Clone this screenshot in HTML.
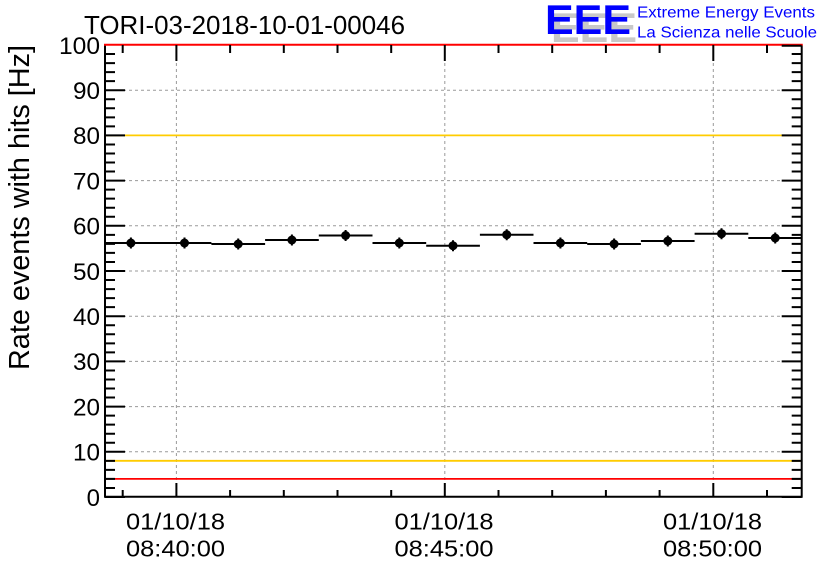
<!DOCTYPE html>
<html><head><meta charset="utf-8"><style>
html,body{margin:0;padding:0;background:#fff;}
svg{display:block;font-family:"Liberation Sans",Arial,sans-serif;}
</style></head><body>
<svg width="836" height="572" viewBox="0 0 836 572" xmlns="http://www.w3.org/2000/svg">
<rect width="836" height="572" fill="#fff"/>
<!-- grid -->
<g stroke="#9a9a9a" stroke-width="1" stroke-dasharray="3,3" fill="none">
<path d="M105 451.8H802M105 406.6H802M105 361.4H802M105 316.2H802M105 271H802M105 225.8H802M105 180.6H802M105 135.4H802M105 90.2H802"/>
<path d="M176.4 45V497M444.8 45V497M713.3 45V497"/>
</g>
<!-- threshold lines -->
<g stroke-width="1.8" fill="none">
<path d="M104 135.4H802M104 460.8H802" stroke="#ffcc00"/>
<path d="M104 478.9H802" stroke="#ff0000"/>
</g>
<!-- frame -->
<path d="M105 44.8V496.8H801.7V44.8" stroke="#000" stroke-width="2" fill="none"/>
<path d="M104 44.8H802.7" stroke="#ff0000" stroke-width="2"/>
<!-- y ticks -->
<g stroke="#000" stroke-width="2" fill="none">
<path d="M105 497h20M105 451.8h20M105 406.6h20M105 361.4h20M105 316.2h20M105 271h20M105 225.8h20M105 180.6h20M105 135.4h20M105 90.2h20"/>
<path d="M105 487.96h10M105 478.92h10M105 469.88h10M105 460.84h10M105 442.76h10M105 433.72h10M105 424.68h10M105 415.64h10M105 397.56h10M105 388.52h10M105 379.48h10M105 370.44h10M105 352.36h10M105 343.32h10M105 334.28h10M105 325.24h10M105 307.16h10M105 298.12h10M105 289.08h10M105 280.04h10M105 261.96h10M105 252.92h10M105 243.88h10M105 234.84h10M105 216.76h10M105 207.72h10M105 198.68h10M105 189.64h10M105 171.56h10M105 162.52h10M105 153.48h10M105 144.44h10M105 126.36h10M105 117.32h10M105 108.28h10M105 99.24h10M105 81.16h10M105 72.12h10M105 63.08h10M105 54.04h10"/>
<path d="M801.7 497h-20M801.7 451.8h-20M801.7 406.6h-20M801.7 361.4h-20M801.7 316.2h-20M801.7 271h-20M801.7 225.8h-20M801.7 180.6h-20M801.7 135.4h-20M801.7 90.2h-20M801.7 45.8h-20"/>
<path d="M801.7 487.96h-10M801.7 478.92h-10M801.7 469.88h-10M801.7 460.84h-10M801.7 442.76h-10M801.7 433.72h-10M801.7 424.68h-10M801.7 415.64h-10M801.7 397.56h-10M801.7 388.52h-10M801.7 379.48h-10M801.7 370.44h-10M801.7 352.36h-10M801.7 343.32h-10M801.7 334.28h-10M801.7 325.24h-10M801.7 307.16h-10M801.7 298.12h-10M801.7 289.08h-10M801.7 280.04h-10M801.7 261.96h-10M801.7 252.92h-10M801.7 243.88h-10M801.7 234.84h-10M801.7 216.76h-10M801.7 207.72h-10M801.7 198.68h-10M801.7 189.64h-10M801.7 171.56h-10M801.7 162.52h-10M801.7 153.48h-10M801.7 144.44h-10M801.7 126.36h-10M801.7 117.32h-10M801.7 108.28h-10M801.7 99.24h-10M801.7 81.16h-10M801.7 72.12h-10M801.7 63.08h-10M801.7 54.04h-10"/>
<!-- x ticks bottom -->
<path d="M176.4 497v-14M444.8 497v-14M713.3 497v-14"/>
<path d="M122.7 497v-7M230.1 497v-7M283.8 497v-7M337.5 497v-7M391.2 497v-7M498.5 497v-7M552.2 497v-7M605.9 497v-7M659.6 497v-7M767 497v-7"/>
<!-- x ticks top -->
<path d="M176.4 45v16M444.8 45v16M713.3 45v16"/>
<path d="M122.7 45v8M230.1 45v8M283.8 45v8M337.5 45v8M391.2 45v8M498.5 45v8M552.2 45v8M605.9 45v8M659.6 45v8M767 45v8"/>
</g>
<!-- data -->
<g stroke="#000" stroke-width="2" fill="none">
<path d="M105 243H157.7M157.7 243H211.4M211.4 244H265.1M265.1 240H318.8M318.8 235.5H372.5M372.5 243H426.2M426.2 245.7H479.9M479.9 234.7H533.5M533.5 243H587.2M587.2 244H640.9M640.9 241H694.6M694.6 233.7H748.3M748.3 238H801.7"/>
<path d="M130.9 237.5v11M184.5 237.5v11M238.2 238.5v11M291.9 234.5v11M345.6 230v11M399.3 237.5v11M453 240.2v11M506.7 229.2v11M560.4 237.5v11M614.1 238.5v11M667.8 235.5v11M721.5 228.2v11M775.2 232.5v11"/>
</g>
<g fill="#000">
<circle cx="130.9" cy="243" r="4.5"/><circle cx="184.5" cy="243" r="4.5"/><circle cx="238.2" cy="244" r="4.5"/><circle cx="291.9" cy="240" r="4.5"/><circle cx="345.6" cy="235.5" r="4.5"/><circle cx="399.3" cy="243" r="4.5"/><circle cx="453" cy="245.7" r="4.5"/><circle cx="506.7" cy="234.7" r="4.5"/><circle cx="560.4" cy="243" r="4.5"/><circle cx="614.1" cy="244" r="4.5"/><circle cx="667.8" cy="241" r="4.5"/><circle cx="721.5" cy="233.7" r="4.5"/><circle cx="775.2" cy="238" r="4.5"/>
</g>
<!-- y labels -->
<g font-size="24" fill="#000" text-anchor="end" style="font-weight:500">
<text x="100" y="505.8">0</text>
<text x="100" y="460.6" textLength="27" lengthAdjust="spacingAndGlyphs">10</text>
<text x="100" y="415.4" textLength="27" lengthAdjust="spacingAndGlyphs">20</text>
<text x="100" y="370.2" textLength="27" lengthAdjust="spacingAndGlyphs">30</text>
<text x="100" y="325" textLength="27" lengthAdjust="spacingAndGlyphs">40</text>
<text x="100" y="279.8" textLength="27" lengthAdjust="spacingAndGlyphs">50</text>
<text x="100" y="234.6" textLength="27" lengthAdjust="spacingAndGlyphs">60</text>
<text x="100" y="189.4" textLength="27" lengthAdjust="spacingAndGlyphs">70</text>
<text x="100" y="144.2" textLength="27" lengthAdjust="spacingAndGlyphs">80</text>
<text x="100" y="99" textLength="27" lengthAdjust="spacingAndGlyphs">90</text>
<text x="100" y="53.8" textLength="41" lengthAdjust="spacingAndGlyphs">100</text>
</g>
<!-- x labels -->
<g font-size="23.5" fill="#000" text-anchor="middle">
<text x="175.5" y="529.5" textLength="99" lengthAdjust="spacingAndGlyphs">01/10/18</text>
<text x="175.5" y="556.5" textLength="99" lengthAdjust="spacingAndGlyphs">08:40:00</text>
<text x="444" y="529.5" textLength="99" lengthAdjust="spacingAndGlyphs">01/10/18</text>
<text x="444" y="556.5" textLength="99" lengthAdjust="spacingAndGlyphs">08:45:00</text>
<text x="712.5" y="529.5" textLength="99" lengthAdjust="spacingAndGlyphs">01/10/18</text>
<text x="712.5" y="556.5" textLength="99" lengthAdjust="spacingAndGlyphs">08:50:00</text>
</g>
<!-- axis title -->
<text transform="translate(29,45) rotate(-90)" text-anchor="end" font-size="28.5" fill="#000" textLength="325" lengthAdjust="spacingAndGlyphs">Rate events with hits [Hz]</text>
<!-- title -->
<text x="84" y="34" font-size="26" fill="#000" textLength="321" lengthAdjust="spacingAndGlyphs">TORI-03-2018-10-01-00046</text>
<!-- EEE logo -->
<text x="551" y="42" font-size="42" font-weight="bold" fill="#c8c8c8" textLength="86" lengthAdjust="spacingAndGlyphs">EEE</text>
<text x="545" y="34" font-size="42" font-weight="bold" fill="#0000ff" textLength="86" lengthAdjust="spacingAndGlyphs">EEE</text>
<text x="637" y="17.5" font-size="16" fill="#0000ff" textLength="178" lengthAdjust="spacingAndGlyphs">Extreme Energy Events</text>
<text x="637" y="37.5" font-size="16" fill="#0000ff" textLength="180" lengthAdjust="spacingAndGlyphs">La Scienza nelle Scuole</text>
</svg>
</body></html>
